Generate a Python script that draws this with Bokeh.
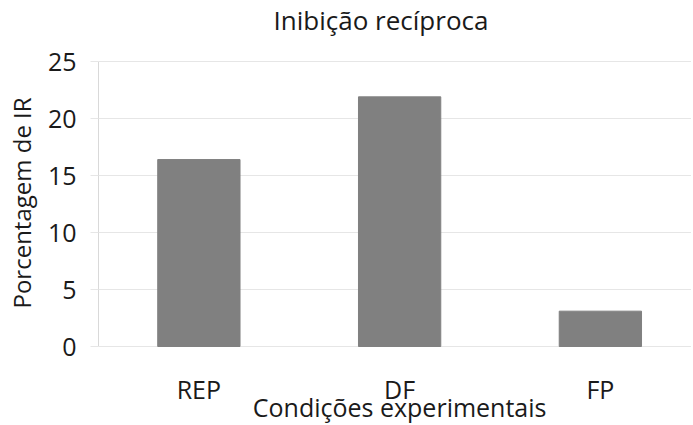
from bokeh.plotting import figure
from bokeh.models import Range1d, FixedTicker, Title
from bokeh.core.properties import value
from bokeh.embed import file_html
from bokeh.resources import INLINE

categories = ["REP", "DF", "FP"]
values = [16.4, 21.9, 3.1]
y_ticks = [0, 5, 10, 15, 20, 25]
title_text = "Inibição recíproca"
x_title = "Condições experimentais"
y_title = "Porcentagem de IR"

FONT = "Open Sans"
TXT = "#1a1a1a"
FS = "25px"

# layout (pixels of the 693x425 window)
W, H = 693, 425
LEFT = 100            # x of the value axis
Y0_PX, Y25_PX = 348, 63
PX_Y = (Y0_PX - Y25_PX) / 25.0
PX_X = 200.75         # pixels per category

xs = list(range(len(categories)))
x_start = -0.5
x_end = x_start + (W - LEFT) / PX_X
y_top = 25 + Y25_PX / PX_Y
y_bot = -(H - Y0_PX) / PX_Y

def ydat(px):
    return (Y0_PX - px) / PX_Y

def xdat(px):
    return x_start + (px - LEFT) / PX_X

p = figure(width=W, height=H, output_backend="svg", toolbar_location=None,
           x_range=Range1d(x_start, x_end), y_range=Range1d(y_bot, y_top),
           x_axis_location=None,
           min_border_left=LEFT, min_border_right=0, min_border_top=0, min_border_bottom=0)
try:
    p.margin = (-2, -2, -2, -2)
except Exception:
    p.styles = {"margin": "-2px"}
p.outline_line_color = None
p.title.visible = False

p.vbar(x=xs, top=values, width=0.41, color="#808080")

p.xgrid.grid_line_color = None
p.ygrid.grid_line_color = "#e6e6e6"
p.ygrid.ticker = FixedTicker(ticks=y_ticks)

p.yaxis.ticker = FixedTicker(ticks=y_ticks)
p.yaxis.bounds = (0, 25)
p.yaxis.axis_line_color = "#d9d9d9"
p.yaxis.major_tick_line_color = "#e6e6e6"
p.yaxis.major_tick_out = 8
p.yaxis.major_tick_in = 0
p.yaxis.minor_tick_line_color = None
p.yaxis.major_label_standoff = 14
p.yaxis.major_label_text_font = FONT
p.yaxis.major_label_text_font_size = FS
p.yaxis.major_label_text_color = TXT

yt = Title(text=y_title, align="left", offset=H - 310, standoff=10,
           vertical_align="top", text_font=FONT, text_font_size="24px",
           text_font_style="normal", text_color=TXT)
p.add_layout(yt, "left")

# category labels
p.text(x=xs, y=[ydat(390)] * len(xs), text=categories,
       text_align="center", text_baseline="middle",
       text_font=value(FONT), text_font_size=value(FS), text_color=TXT)
# x axis title
p.text(x=[1.0], y=[ydat(408.5)], text=[x_title],
       text_align="center", text_baseline="middle",
       text_font=value(FONT), text_font_size=value(FS), text_color=TXT)
# chart title
p.text(x=[xdat(382.5)], y=[ydat(21.5)], text=[title_text],
       text_align="center", text_baseline="middle",
       text_font=value(FONT), text_font_size=value("26px"), text_color=TXT)

open("out.html", "w").write(file_html(p, INLINE))
